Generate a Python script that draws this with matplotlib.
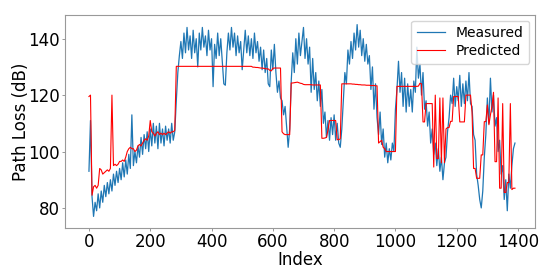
import numpy as np
import matplotlib
matplotlib.use("Agg")
import matplotlib.pyplot as plt

# sample index (every 5th measurement)
index = list(range(0, 1391, 5))

measured = [
    93, 111, 84, 77, 82, 79, 85, 80, 86, 82,          # 0-45
    88, 84, 89, 85, 90, 86, 92, 88, 93, 89,           # 50-95
    94, 90, 96, 91, 97, 92, 99, 94, 113, 95,          # 100-145
    100, 96, 102, 98, 105, 99, 106, 101, 107, 100,    # 150-195
    108, 102, 110, 103, 109, 101, 110, 103, 108, 102, # 200-245
    109, 104, 108, 103, 110, 104, 107, 118, 128, 134, # 250-295
    139, 133, 142, 135, 144, 136, 141, 133, 143, 135, # 300-345
    140, 130, 142, 136, 144, 137, 141, 134, 143, 136, # 350-395
    140, 123, 138, 133, 142, 134, 140, 132, 124, 123.5, # 400-445
    135, 142, 136, 144, 137, 142, 134, 141, 135, 139, # 450-495
    129, 136, 143, 135, 141, 134, 140, 133, 142, 135, # 500-545
    139, 132, 137, 129, 136, 128, 133, 124, 123, 136, # 550-595
    129, 138, 128, 121, 125, 119, 118, 113, 116, 109, # 600-645
    101.5, 108, 125, 135, 128, 140, 131, 142, 134, 139, # 650-695
    144, 133, 140, 131, 137, 121, 133, 122, 128, 118, # 700-745
    125, 116, 122, 110, 114, 105, 111, 104, 112, 106, # 750-795
    113, 104, 110, 103, 101.5, 108, 118, 128, 124, 136, # 800-845
    131, 139, 133, 142, 136, 145, 137, 143, 134, 140, # 850-895
    132, 138, 131, 134, 122, 130, 115, 124, 112, 106, # 900-945
    114, 102.5, 108, 98, 103, 96, 101, 97, 103, 100,  # 950-995
    115, 122, 132, 121, 128, 116, 126, 114, 124, 116, # 1000-1045
    122, 114, 125, 121, 137, 126, 131, 120, 128, 115, # 1050-1095
    118, 109, 114, 103, 108, 99, 103, 95, 101, 93,    # 1100-1145
    98, 90, 96, 98, 107, 112, 120, 117, 126, 116,     # 1150-1195
    123, 118, 127, 116, 124, 117, 125, 118, 128, 117, # 1200-1245
    116, 106, 104, 92, 88, 83, 80, 86, 98, 106,       # 1250-1295
    119, 110, 126, 114, 120, 109, 112, 100, 104, 92,  # 1300-1345
    95, 83, 90, 79, 92, 87, 95, 101, 103,             # 1350-1390
]

predicted = [
    119.5, 120, 84.5, 87.5, 88, 87, 88, 94, 93.5, 92,           # 0-45
    92.5, 93, 93.5, 93, 94, 120, 95, 95.5, 95, 95.5,            # 50-95
    96.5, 96.5, 97, 96.5, 98, 100, 101, 101.5, 101, 101,        # 100-145
    100, 100.5, 102, 102.5, 102, 103, 104, 104.5, 104, 105.5,   # 150-195
    111, 107, 106.5, 105.5, 106.5, 107, 106, 106.5, 106, 106.5, # 200-245
    106, 106.5, 107, 106.5, 107, 107, 107.5, 130.2, 130.2, 130.2, # 250-295
    130.2, 130.2, 130.2, 130.2, 130.2, 130.2, 130.2, 130.2, 130.2, 130.2, # 300-345
    130.2, 130.2, 130.2, 130.2, 130.2, 130.2, 130.2, 130.2, 130.2, 130.2, # 350-395
    130.2, 130.2, 130.2, 130.2, 130.2, 130.2, 130.2, 130.2, 130.2, 130.2, # 400-445
    130.2, 130.2, 130.2, 130.2, 130.2, 130.2, 130.2, 130.2, 130.2, 130.2, # 450-495
    130.2, 130.2, 130.2, 130.2, 130.2, 130.2, 130.2, 129.9, 129.9, 129.8, # 500-545
    129.8, 129.7, 129.6, 129.6, 129.5, 129.4, 129.3, 129.3, 128.8, 128.6, # 550-595
    129.5, 129.6, 129.6, 129.6, 129.6, 129.6, 107, 106.3, 106, 106,       # 600-645
    106, 106, 124.3, 124.3, 124.4, 124.5, 124.6, 124.4, 124.2, 124.1,     # 650-695
    123.8, 123.7, 123.7, 123.7, 123.7, 123.7, 123.6, 123.6, 123.6, 123.6, # 700-745
    123.6, 123.6, 104.7, 104.7, 104.8, 105, 107.7, 111, 111, 111,         # 750-795
    111, 111, 104.2, 104.2, 104.5, 124, 124, 124, 124, 124,               # 800-845
    124, 124, 123.9, 123.9, 123.8, 123.8, 123.7, 123.7, 123.6, 123.6,     # 850-895
    123.6, 123.5, 123.5, 123.5, 123.4, 123.4, 123.4, 123.3, 123.3, 103,   # 900-945
    103.5, 104, 101.5, 101, 100, 100, 100, 100, 100, 100,                 # 950-995
    100, 123.1, 123.1, 123.1, 123.1, 123.1, 123.1, 123.1, 123.1, 123.1,   # 1000-1045
    123.1, 123.1, 123.1, 123.1, 123.1, 123.2, 124.2, 124, 110.5, 110.5,   # 1050-1095
    117, 117, 117, 117, 117, 94.5, 120, 97.5, 97.5, 119,                  # 1100-1145
    96, 119, 96, 108, 108.5, 108.5, 110.7, 110.7, 119.5, 119.5,           # 1150-1195
    119.5, 119.5, 110.5, 110.5, 110.5, 110.5, 120, 120, 120, 120,         # 1200-1245
    114, 94, 94, 90.5, 90.5, 90.5, 98.8, 98.8, 110.6, 110.6,              # 1250-1295
    116.5, 109.5, 113, 116, 121, 96.4, 96.4, 119, 87, 87,                 # 1300-1345
    117, 85.5, 85.5, 89, 89, 117, 86.5, 87, 87,                           # 1350-1390
]

plt.rcParams['font.family'] = ['DejaVu Sans']
fig = plt.figure(figsize=(5.56, 2.78), dpi=100)
ax = fig.add_axes([0.117, 0.18, 0.845, 0.766])

ax.plot(index, measured, color='#1f77b4', lw=0.9, label='Measured')
ax.plot(index, predicted, color='red', lw=0.8, label='Predicted')

ax.set_xlim(-78, 1455)
ax.set_ylim(72.9, 148.4)
ax.set_xticks([0, 200, 400, 600, 800, 1000, 1200, 1400])
ax.set_yticks([80, 100, 120, 140])
ax.tick_params(labelsize=12, length=2, width=0.6, pad=1.5, color='#888888')
ax.set_xlabel('Index', fontsize=12, labelpad=0)
ax.set_ylabel('Path Loss (dB)', fontsize=12, labelpad=-1)
for s in ax.spines.values():
    s.set_color('#999999')
    s.set_linewidth(0.8)

ax.legend(loc='upper right', fontsize=10, framealpha=0.8, borderaxespad=0.4,
          handlelength=2.0, labelspacing=0.3)

fig.savefig('out.png', dpi=100)
